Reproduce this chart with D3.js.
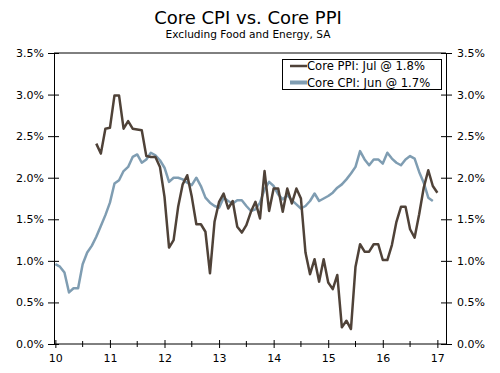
<!DOCTYPE html>
<html lang="en">
	<head>
		<meta charset="utf-8">
		<title>Core CPI vs. Core PPI</title>
		<script type="text/javascript" src="https://d3js.org/d3.v7.min.js"></script>
		<style type="text/css">
			body{
				margin: 0;
				background: #fff;
			}
			text{
				font-family: "DejaVu Sans", Verdana, sans-serif;
			}
		</style>
	</head>
	<body>
		<script type="text/javascript">

			//Width and height
			var w = 500;
			var h = 373;

			//Monthly data, Jul 2010 .. Jul 2017 (index 0 = Jul 2010)
			var yearLabels = ["10", "11", "12", "13", "14", "15", "16", "17"];
			var yTicks = [0, 0.5, 1.0, 1.5, 2.0, 2.5, 3.0, 3.5];

			var coreCPI = [
				0.96, 0.93, 0.86, 0.62, 0.67, 0.67, 0.96, 1.10, 1.18, 1.29,
				1.42, 1.55, 1.70, 1.93, 1.97, 2.08, 2.13, 2.25, 2.28, 2.18,
				2.22, 2.30, 2.27, 2.21, 2.12, 1.95, 2.00, 2.00, 1.98, 1.94,
				1.91, 2.00, 1.90, 1.76, 1.70, 1.66, 1.64, 1.76, 1.72, 1.69,
				1.73, 1.73, 1.66, 1.60, 1.62, 1.70, 1.86, 1.95, 1.90, 1.80,
				1.74, 1.79, 1.73, 1.68, 1.63, 1.66, 1.72, 1.81, 1.72, 1.75,
				1.78, 1.82, 1.88, 1.92, 1.98, 2.05, 2.13, 2.32, 2.22, 2.15,
				2.22, 2.22, 2.17, 2.30, 2.23, 2.18, 2.15, 2.22, 2.26, 2.23,
				2.07, 1.94, 1.76, 1.72
			];

			var corePPI = [
				null, null, null, null, null, null, null, null, null, 2.41,
				2.29, 2.59, 2.60, 2.99, 2.99, 2.59, 2.68, 2.59, 2.58, 2.57,
				2.26, 2.25, 2.25, 2.13, 1.77, 1.16, 1.25, 1.65, 1.92, 2.03,
				1.77, 1.44, 1.44, 1.35, 0.85, 1.47, 1.71, 1.81, 1.63, 1.72,
				1.41, 1.34, 1.43, 1.59, 1.71, 1.51, 2.08, 1.60, 1.87, 1.87,
				1.59, 1.87, 1.69, 1.87, 1.75, 1.10, 0.84, 1.02, 0.75, 1.02,
				0.74, 0.66, 0.83, 0.20, 0.28, 0.18, 0.93, 1.20, 1.11, 1.11,
				1.20, 1.20, 1.01, 1.01, 1.19, 1.47, 1.65, 1.65, 1.38, 1.28,
				1.56, 1.88, 2.09, 1.90, 1.82
			];

			var legendNames = ["Core PPI: Jul @ 1.8%", "Core CPI: Jun @ 1.7%"];
			var ppiColor = "#4f4238";
			var cpiColor = "#7f9db2";

			//Scales
			var xScale = d3.scaleLinear()
							.domain([-0.3, 85.9])
							.range([54, 446]);

			var yScale = d3.scaleLinear()
							.domain([0, 3.5])
							.range([344, 53]);

			//Create SVG element
			var svg = d3.select("body")
						.append("svg")
						.attr("width", w)
						.attr("height", h);

			//Title
			svg.append("text")
				.attr("x", 248)
				.attr("y", 24)
				.attr("text-anchor", "middle")
				.attr("font-size", "18px")
				.attr("fill", "#000")
				.text("Core CPI vs. Core PPI");

			svg.append("text")
				.attr("x", 248)
				.attr("y", 38)
				.attr("text-anchor", "middle")
				.attr("font-size", "10.6px")
				.attr("fill", "#000")
				.text("Excluding Food and Energy, SA");

			//Top border of the plot
			svg.append("line")
				.attr("x1", 54)
				.attr("x2", 446)
				.attr("y1", yScale(3.5))
				.attr("y2", yScale(3.5))
				.attr("stroke", "#000");

			//Left axis
			var yAxisL = d3.axisLeft(yScale)
							.tickValues(yTicks)
							.tickSizeOuter(0)
							.tickSize(6)
							.tickPadding(4)
							.tickFormat(function(d) { return d.toFixed(1) + "%"; });

			var gL = svg.append("g")
				.attr("transform", "translate(54,0)")
				.call(yAxisL);
			gL.selectAll(".tick line").attr("x1", 5);

			//Right axis
			var yAxisR = d3.axisRight(yScale)
							.tickValues(yTicks)
							.tickSizeOuter(0)
							.tickSize(6)
							.tickPadding(5)
							.tickFormat(function(d) { return d.toFixed(1) + "%"; });

			var gR = svg.append("g")
				.attr("transform", "translate(446,0)")
				.call(yAxisR);
			gR.selectAll(".tick line").attr("x1", -5);

			//Bottom axis, minor ticks every 6 months
			var minorTicks = d3.range(6, 84, 12);
			svg.append("g")
				.attr("transform", "translate(0,344)")
				.selectAll("line")
				.data(minorTicks)
				.enter()
				.append("line")
				.attr("x1", function(d) { return xScale(d); })
				.attr("x2", function(d) { return xScale(d); })
				.attr("y1", -3)
				.attr("y2", 3)
				.attr("stroke", "#000");

			var xAxis = d3.axisBottom(xScale)
							.tickValues(d3.range(0, 85, 12))
							.tickSizeOuter(0)
							.tickSize(4)
							.tickPadding(6)
							.tickFormat(function(d, i) { return yearLabels[i]; });

			var gB = svg.append("g")
				.attr("transform", "translate(0,344)")
				.call(xAxis);
			gB.selectAll(".tick line").attr("y1", -4);
			gB.select(".domain").attr("d", "M54,0H446");

			svg.selectAll(".tick text")
				.attr("font-size", "11px")
				.attr("font-family", "DejaVu Sans, Verdana, sans-serif")
				.attr("fill", "#000");
			svg.selectAll(".domain, .tick line").attr("stroke", "#000");

			//Lines
			var line = d3.line()
						.defined(function(d) { return d != null; })
						.x(function(d, i) { return xScale(i); })
						.y(function(d) { return yScale(d); });

			svg.append("path")
				.datum(coreCPI)
				.attr("fill", "none")
				.attr("stroke", cpiColor)
				.attr("stroke-width", 2.5)
				.attr("stroke-linejoin", "round")
				.attr("d", line);

			svg.append("path")
				.datum(corePPI)
				.attr("fill", "none")
				.attr("stroke", ppiColor)
				.attr("stroke-width", 2.5)
				.attr("stroke-linejoin", "round")
				.attr("d", line);

			//Legend
			var legend = svg.append("g");
			legend.append("rect")
				.attr("x", 282.5)
				.attr("y", 59.5)
				.attr("width", 159)
				.attr("height", 30)
				.attr("fill", "#fff")
				.attr("stroke", "#000");

			var items = legend.selectAll("g.item")
				.data(legendNames)
				.enter()
				.append("g")
				.attr("class", "item")
				.attr("transform", function(d, i) { return "translate(0," + (66 + i * 16.5) + ")"; });

			items.append("line")
				.attr("x1", 290)
				.attr("x2", 307)
				.attr("stroke", function(d, i) { return i == 0 ? ppiColor : cpiColor; })
				.attr("stroke-width", function(d, i) { return i == 0 ? 2.5 : 4; });

			items.append("text")
				.attr("x", 307)
				.attr("dy", "0.35em")
				.attr("font-size", "11.6px")
				.attr("fill", "#000")
				.text(function(d) { return d; });

		</script>
	</body>
</html>
